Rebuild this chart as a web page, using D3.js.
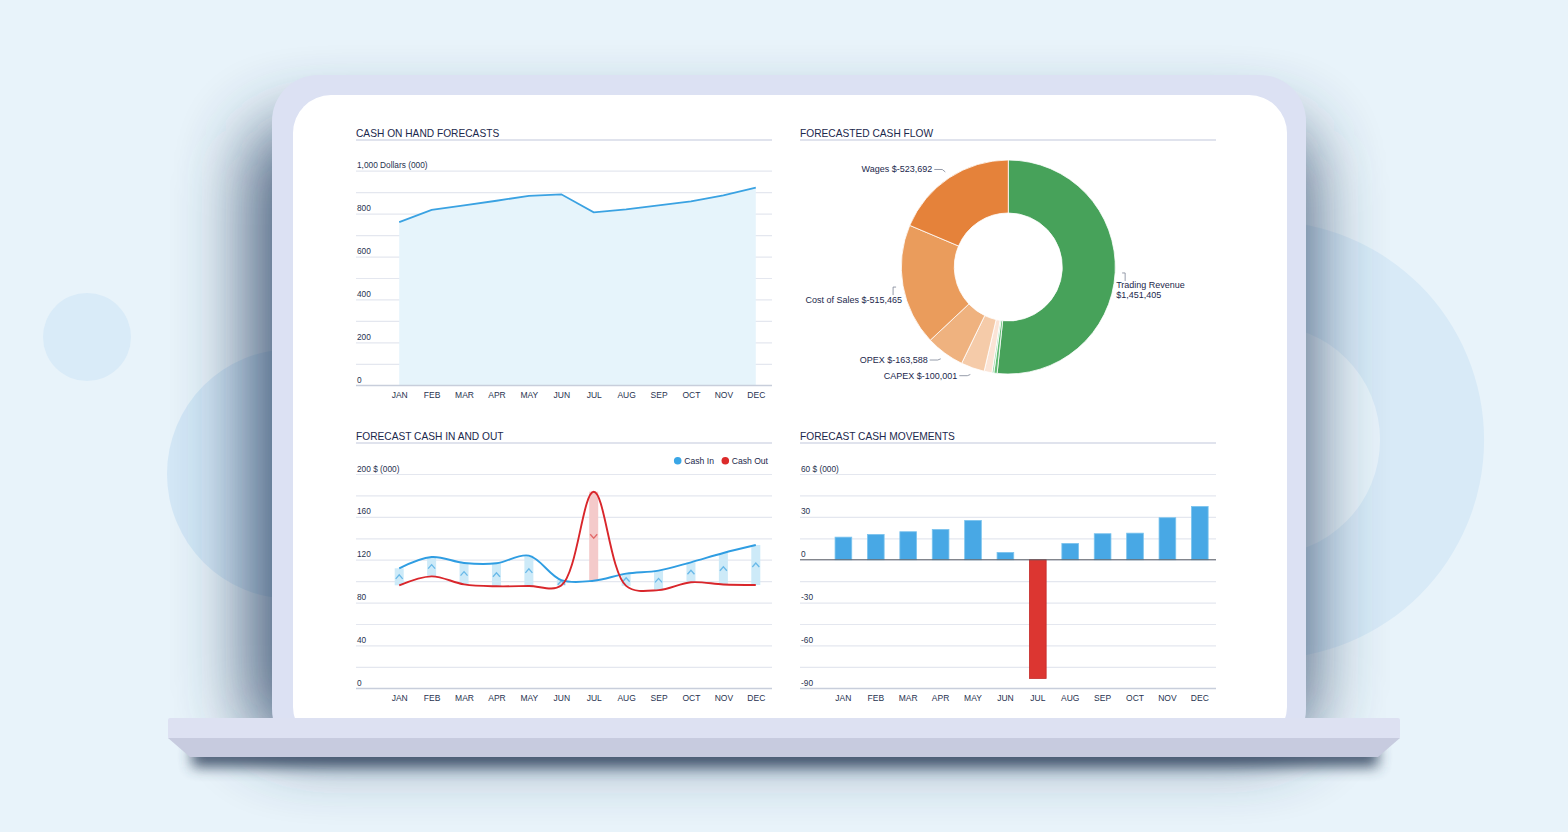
<!DOCTYPE html>
<html>
<head>
<meta charset="utf-8">
<script src="https://cdn.jsdelivr.net/npm/d3@7"></script>
<style>
  body { margin: 0; background: #e8f3fa; }
  svg { display: block; font-family: "Liberation Sans", Arial, sans-serif; }
</style>
</head>
<body>
<svg id="chart" width="1568" height="832"></svg>
<script>
var months = ["JAN", "FEB", "MAR", "APR", "MAY", "JUN", "JUL", "AUG", "SEP", "OCT", "NOV", "DEC"]

var cashOnHand = [760, 817, 838, 860, 883, 890, 806, 820, 838, 857, 885, 921]
var onHandTicks = [0, 200, 400, 600, 800, 1000]

var cashIn = [112, 122.5, 117, 116.7, 123.8, 101, 100.4, 107, 109.8, 117.6, 126.3, 133.7]
var cashOut = [96.1, 104.5, 97, 95.2, 95.5, 96, 183.5, 95.6, 91.6, 99, 96.9, 96.4]
var inOutTicks = [0, 40, 80, 120, 160, 200]

var cashMovements = [15.8, 17.7, 19.6, 21.2, 27.5, 5.1, -83.1, 11.4, 18.2, 18.6, 29.4, 37.3]
var movementTicks = [-90, -60, -30, 0, 30, 60]

var flowNames = ["Trading Revenue", "Other Income", "Interest", "Other Costs", "CAPEX", "OPEX", "Cost of Sales", "Wages"]
var flowValues = [1451405, 14000, 8000, -33000, -100001, -163588, -515465, -523692]
var labelledFlows = ["Trading Revenue", "Wages", "Cost of Sales", "OPEX", "CAPEX"]

var flowColors = ["#47a25a", "#62bd74", "#9ad6a6", "#fbe4d6", "#f5cba9", "#efb27f", "#ea9c5c", "#e5823a"]

var fmt = d3.formatLocale({decimal: ".", thousands: ",", grouping: [3], currency: ["$", ""], minus: "-"}).format(",")

var textColor = "#27324f"
var titleColor = "#1b284c"
var gridColor = "#e4e7ef"

var svg = d3.select("#chart")
var defs = svg.append("defs")
defs.append("filter").attr("id", "laptopShadow")
    .attr("x", "-30%").attr("y", "-30%").attr("width", "160%").attr("height", "160%")
    .append("feGaussianBlur").attr("stdDeviation", 36)
defs.append("filter").attr("id", "baseShadow")
    .attr("x", "-10%").attr("y", "-200%").attr("width", "120%").attr("height", "500%")
    .append("feGaussianBlur").attr("stdDeviation", 7)

// backdrop
svg.append("rect").attr("width", 1568).attr("height", 832).attr("fill", "#e8f3fa")
svg.append("circle").attr("cx", 87).attr("cy", 337).attr("r", 44).attr("fill", "#d9ebf8")
svg.append("circle").attr("cx", 292).attr("cy", 474).attr("r", 125).attr("fill", "#d3e7f6")
svg.append("path")
    .attr("transform", "translate(1265,440)")
    .attr("d", d3.arc()({innerRadius: 115, outerRadius: 219, startAngle: 0, endAngle: 2 * Math.PI}))
    .attr("fill", "#d8eaf7")

// laptop
svg.append("rect")
    .attr("x", 250).attr("y", 125).attr("width", 1060).attr("height", 620).attr("rx", 46)
    .attr("fill", "#2c4264").attr("opacity", 0.85)
    .attr("filter", "url(#laptopShadow)")
svg.append("rect")
    .attr("x", 192).attr("y", 745).attr("width", 1186).attr("height", 22)
    .attr("fill", "#33445f").attr("opacity", 0.85)
    .attr("filter", "url(#baseShadow)")
svg.append("rect").attr("x", 272).attr("y", 75).attr("width", 1034).attr("height", 680).attr("rx", 46).attr("fill", "#dce1f3")
svg.append("rect").attr("x", 293).attr("y", 95).attr("width", 994).attr("height", 650).attr("rx", 38).attr("fill", "#ffffff")
svg.append("rect").attr("x", 168).attr("y", 718).attr("width", 1232).attr("height", 21).attr("rx", 2).attr("fill", "#dde1f2")
svg.append("path").attr("d", "M168,738 L1400,738 L1378,757 L190,757 Z").attr("fill", "#c7cbdf")

function drawTitle(text, left, right, y) {
    svg.append("text")
        .attr("x", left).attr("y", y)
        .attr("font-size", 10.2)
        .attr("fill", titleColor)
        .text(text)
    svg.append("line")
        .attr("x1", left).attr("x2", right)
        .attr("y1", y + 3.5).attr("y2", y + 3.5)
        .attr("stroke", "#d6dae7").attr("stroke-width", 1.5)
}

function drawValueAxis(yScale, labelTicks, unit, left, width) {
    var step = labelTicks[1] - labelTicks[0]
    var top = yScale.domain()[1]
    var axis = svg.append("g")
        .attr("transform", `translate(${left},0)`)
        .call(d3.axisRight(yScale)
            .tickValues(d3.range(yScale.domain()[0], top + 1, step / 2))
            .tickSize(width)
            .tickFormat(d => (d - labelTicks[0]) % step != 0 ? "" : (d == top ? fmt(d) + " " + unit : fmt(d))))
    axis.attr("font-family", null).attr("font-size", null)
    axis.select(".domain").remove()
    axis.selectAll("line").attr("stroke", gridColor).attr("stroke-width", 1.2)
    axis.selectAll("text")
        .attr("x", 1).attr("dy", -3)
        .attr("font-size", 8.3)
        .attr("fill", textColor)
    return axis
}

function drawMonthAxis(xScale, y) {
    var axis = svg.append("g")
        .attr("transform", `translate(0,${y})`)
        .call(d3.axisBottom(xScale).tickSize(0).tickPadding(7))
    axis.attr("font-family", null).attr("font-size", null)
    axis.select(".domain").remove()
    axis.selectAll("text").attr("font-size", 8.5).attr("fill", textColor)
}

// CASH ON HAND FORECASTS
drawTitle("CASH ON HAND FORECASTS", 356, 772, 136.5)
var x1 = d3.scalePoint().domain(months).range([383, 772]).padding(0.5)
var y1 = d3.scaleLinear().domain([0, 1000]).range([385.3, 170.7])
drawValueAxis(y1, onHandTicks, "Dollars (000)", 356, 416)
svg.append("path")
    .datum(cashOnHand)
    .attr("d", d3.area().x((d, i) => x1(months[i])).y0(y1(0)).y1(d => y1(d)))
    .attr("fill", "#e6f4fb")
svg.append("line").attr("x1", 356).attr("x2", 772).attr("y1", y1(0)).attr("y2", y1(0)).attr("stroke", "#c8cedb").attr("stroke-width", 1.2)
svg.append("path")
    .datum(cashOnHand)
    .attr("d", d3.line().x((d, i) => x1(months[i])).y(d => y1(d)))
    .attr("fill", "none")
    .attr("stroke", "#3aa2e2")
    .attr("stroke-width", 1.8)
drawMonthAxis(x1, y1(0))

// FORECASTED CASH FLOW
drawTitle("FORECASTED CASH FLOW", 800, 1216, 136.5)
var pieCx = 1008.3, pieCy = 267
var pie = d3.pie().sort(null).value(d => Math.abs(d))
var arcs = pie(flowValues)
var arcGen = d3.arc().innerRadius(54).outerRadius(107)
var donut = svg.append("g").attr("transform", `translate(${pieCx},${pieCy})`)
donut.selectAll(".slice")
    .data(arcs)
    .enter()
    .append("path")
    .attr("class", "slice")
    .attr("d", arcGen)
    .attr("fill", (d, i) => flowColors[i])
    .attr("stroke", "#ffffff")
    .attr("stroke-width", 0.8)

var belowLabels = ["Trading Revenue", "Cost of Sales"]
arcs.forEach(function(a, i) {
    var name = flowNames[i]
    if (labelledFlows.indexOf(name) < 0) return
    var mid = (a.startAngle + a.endAngle) / 2
    var px = pieCx + 114 * Math.sin(mid)
    var py = pieCy - 114 * Math.cos(mid)
    var s = Math.sin(mid) >= 0 ? 1 : -1
    var value = "$" + fmt(a.data)
    var pts, tx, ty, anchor
    if (belowLabels.indexOf(name) >= 0) {
        pts = [[px, py], [px + 3 * s, py], [px + 3 * s, py + 8]]
        tx = px - 6 * s
        ty = py + 15.5
    } else {
        var ly = py + (s < 0 && Math.cos(mid) > 0 ? -2.5 : 1.2)
        pts = [[px, py], [px + 3 * s, ly], [px + 11 * s, ly]]
        tx = px + 13 * s
        ty = ly + 3
    }
    anchor = s > 0 ? "start" : "end"
    svg.append("path")
        .attr("d", d3.line()(pts))
        .attr("fill", "none")
        .attr("stroke", "#7b8394")
        .attr("stroke-width", 0.8)
    var label = svg.append("text")
        .attr("x", tx).attr("y", ty)
        .attr("text-anchor", anchor)
        .attr("font-size", 9)
        .attr("fill", titleColor)
    if (name == "Trading Revenue") {
        label.append("tspan").attr("x", tx).text(name)
        label.append("tspan").attr("x", tx).attr("dy", 10).text(value)
    } else {
        label.text(name + " " + value)
    }
})

// FORECAST CASH IN AND OUT
drawTitle("FORECAST CASH IN AND OUT", 356, 772, 439.5)
var x3 = d3.scalePoint().domain(months).range([383, 772]).padding(0.5)
var y3 = d3.scaleLinear().domain([0, 200]).range([688.3, 474])
drawValueAxis(y3, inOutTicks, "$ (000)", 356, 416)
svg.append("line").attr("x1", 356).attr("x2", 772).attr("y1", y3(0)).attr("y2", y3(0)).attr("stroke", "#c8cedb").attr("stroke-width", 1.2)

var flows = months.map((m, i) => ({month: m, cin: cashIn[i], cout: cashOut[i]}))
svg.append("g")
    .selectAll(".band")
    .data(flows)
    .enter()
    .append("rect")
    .attr("class", "band")
    .attr("x", d => x3(d.month) - 4.5)
    .attr("width", 9)
    .attr("y", d => y3(Math.max(d.cin, d.cout)))
    .attr("height", d => Math.abs(y3(d.cin) - y3(d.cout)))
    .attr("fill", d => d.cin >= d.cout ? "#cdeaf8" : "#f4caca")
svg.append("g")
    .selectAll(".chevron")
    .data(flows)
    .enter()
    .append("path")
    .attr("class", "chevron")
    .attr("d", function(d) {
        var cx = x3(d.month)
        var cy = (y3(d.cin) + y3(d.cout)) / 2
        var h = d.cin >= d.cout ? 2 : -2
        return `M${cx - 3.5},${cy + h} L${cx},${cy - h} L${cx + 3.5},${cy + h}`
    })
    .attr("fill", "none")
    .attr("stroke", d => d.cin >= d.cout ? "#69b9e8" : "#e26a6a")
    .attr("stroke-width", 1.3)

var lineIn = d3.line().curve(d3.curveCatmullRom).x(d => x3(d.month)).y(d => y3(d.cin))
var lineOut = d3.line().curve(d3.curveCatmullRom).x(d => x3(d.month)).y(d => y3(d.cout))
svg.append("path").datum(flows).attr("d", lineIn)
    .attr("fill", "none").attr("stroke", "#2f9de2").attr("stroke-width", 1.9)
svg.append("path").datum(flows).attr("d", lineOut)
    .attr("fill", "none").attr("stroke", "#d9262b").attr("stroke-width", 1.9)
drawMonthAxis(x3, y3(0))

var legend = svg.append("g").attr("font-size", 8.6).attr("fill", titleColor)
legend.append("circle").attr("cx", 677.7).attr("cy", 460.7).attr("r", 3.8).attr("fill", "#3aa6e6")
legend.append("text").attr("x", 684.3).attr("y", 463.8).text("Cash In")
legend.append("circle").attr("cx", 725.3).attr("cy", 460.7).attr("r", 3.8).attr("fill", "#dc2b2b")
legend.append("text").attr("x", 731.7).attr("y", 463.8).text("Cash Out")

// FORECAST CASH MOVEMENTS
drawTitle("FORECAST CASH MOVEMENTS", 800, 1216, 439.5)
var x4 = d3.scaleBand().domain(months).range([827.2, 1216]).paddingInner(0.485).paddingOuter(0.2425)
var y4 = d3.scaleLinear().domain([-90, 60]).range([688.3, 474])
drawValueAxis(y4, movementTicks, "$ (000)", 800, 416)
svg.append("line").attr("x1", 800).attr("x2", 1216).attr("y1", y4(-90)).attr("y2", y4(-90)).attr("stroke", "#c8cedb").attr("stroke-width", 1.2)
svg.append("g")
    .selectAll(".bar")
    .data(cashMovements)
    .enter()
    .append("rect")
    .attr("class", "bar")
    .attr("x", (d, i) => x4(months[i]))
    .attr("width", x4.bandwidth())
    .attr("y", d => y4(Math.max(d, 0)))
    .attr("height", d => Math.abs(y4(d) - y4(0)))
    .attr("fill", d => d >= 0 ? "#48a8e5" : "#dc3631")
    .attr("stroke", d => d >= 0 ? "#7cc4ee" : "#c42a27")
    .attr("stroke-width", 0.8)
svg.append("line").attr("x1", 800).attr("x2", 1216).attr("y1", y4(0)).attr("y2", y4(0)).attr("stroke", "#5d6068").attr("stroke-width", 1.1)
drawMonthAxis(x4, y4(-90))
</script>
</body>
</html>
